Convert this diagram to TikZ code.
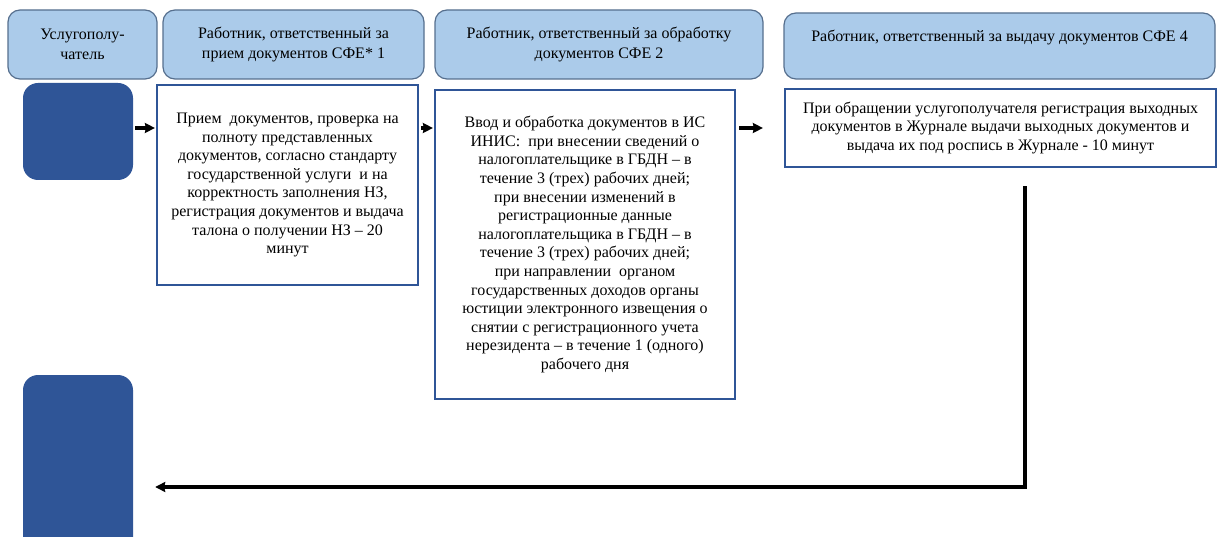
\documentclass[tikz,border=0pt]{standalone}
\usepackage{fontspec}
\setmainfont{Liberation Serif}
\usetikzlibrary{arrows.meta,calc}
\definecolor{hdrfill}{HTML}{ABCBEA}
\definecolor{hdrline}{HTML}{566F8E}
\definecolor{darkbox}{HTML}{2F5597}
\definecolor{procline}{HTML}{2F5597}
\tikzset{
  hdr/.style={draw=hdrline, line width=1.2pt, fill=hdrfill, rounded corners=12pt, align=center, inner sep=0pt,
    font=\fontsize{16}{20.5}\selectfont},
  dark/.style={fill=darkbox, draw=none, rounded corners=15pt, inner sep=0pt},
  proc/.style={draw=procline, line width=2.2pt, fill=white, align=center, inner sep=0pt,
    font=\fontsize{16}{18.6}\selectfont},
  arr/.style={line width=3.2pt, -{Stealth[length=10pt,width=10pt,inset=1pt]}},
}
\begin{document}
\begin{tikzpicture}[x=1pt,y=-1pt]
\useasboundingbox (0,0) rectangle (1221,537);
\begin{scope}
\clip (0,0) rectangle (1221,537);
% headers
\node[hdr, minimum width=149pt, minimum height=69pt] (h1) at (82.5,44.5) {Услугополу-\\чатель};
\node[hdr, minimum width=261pt, minimum height=69pt] (h2) at (293.5,44.5) {Работник, ответственный за\\прием документов СФЕ* 1};
\node[hdr, minimum width=328pt, minimum height=69pt] (h3) at (599,44.5) {Работник, ответственный за обработку\\документов СФЕ 2};
\node[hdr, minimum width=431pt, minimum height=66pt] (h4) at (999.5,46) {Работник, ответственный за выдачу документов СФЕ 4\\\mbox{}};
% dark boxes
\node[dark, minimum width=110pt, minimum height=97pt] (d1) at (78,131.5) {};
\node[dark, minimum width=110pt, minimum height=180pt] (d2) at (78,465) {};
% process boxes
\node[proc, minimum width=261pt, minimum height=200pt] (p1) at (287.5,185) {Прием\ \ документов, проверка на\\полноту представленных\\документов, согласно стандарту\\государственной услуги\ \ и на\\корректность заполнения НЗ,\\регистрация документов и выдача\\талона о получении НЗ – 20\\минут};
\node[proc, minimum width=300pt, minimum height=309pt] (p2) at (585,244.5) {Ввод и обработка документов в ИС\\ИНИС:\ \ при внесении сведений о\\налогоплательщике в ГБДН – в\\течение 3 (трех) рабочих дней;\\при внесении изменений в\\регистрационные данные\\налогоплательщика в ГБДН – в\\течение 3 (трех) рабочих дней;\\при направлении\ \ органом\\государственных доходов органы\\юстиции электронного извещения о\\снятии с регистрационного учета\\нерезидента – в течение 1 (одного)\\рабочего дня};
\node[proc, minimum width=431pt, minimum height=78pt] (p3) at (1000.5,128) {При обращении услугополучателя регистрация выходных\\документов в Журнале выдачи выходных документов и\\выдача их под роспись в Журнале - 10 минут};
\end{scope}
% connectors
\draw[arr] ([xshift=2pt]d1.east |- p3.west) -- ([xshift=-1pt]p1.west |- p3.west);
\draw[arr] ([xshift=2pt]p1.east |- p3.west) -- ([xshift=-1pt]p2.west |- p3.west);
\draw[arr] ([xshift=3pt]p2.east |- p3.west) -- ([xshift=-21pt]p3.west);
\draw[arr] ([xshift=24.5pt,yshift=-18pt]p3.south) |- ([xshift=22pt,yshift=-22pt]d2.east);
\end{tikzpicture}
\end{document}
